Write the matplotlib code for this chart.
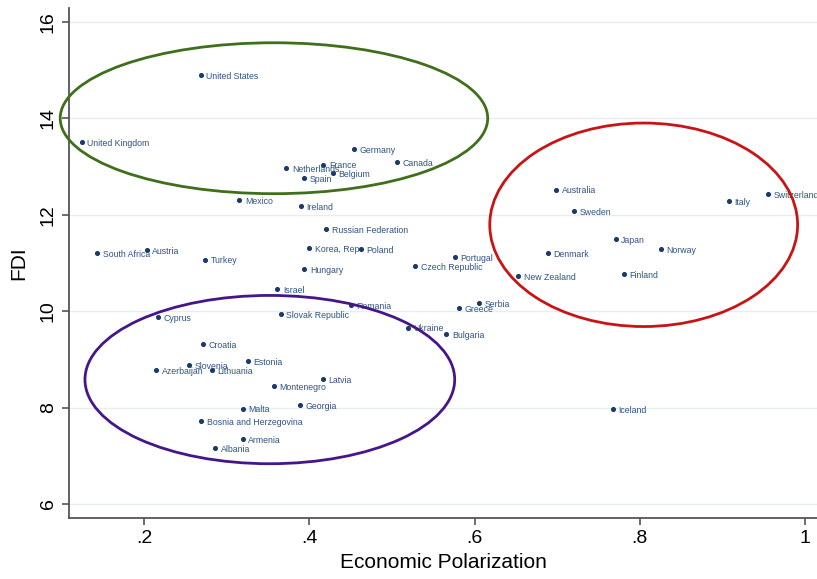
import matplotlib
matplotlib.use('Agg')
import matplotlib.pyplot as plt
from matplotlib.patches import Ellipse

countries = ['United States', 'United Kingdom', 'Germany', 'Canada', 'France', 'Netherlands',
             'Belgium', 'Spain', 'Mexico', 'Ireland', 'Russian Federation', 'South Africa',
             'Austria', 'Turkey', 'Korea, Rep', 'Poland', 'Hungary', 'Czech Republic', 'Israel',
             'Romania', 'Cyprus', 'Slovak Republic', 'Ukraine', 'Croatia', 'Slovenia',
             'Azerbaijan', 'Lithuania', 'Estonia', 'Latvia', 'Montenegro', 'Malta', 'Georgia',
             'Bosnia and Herzegovina', 'Armenia', 'Albania', 'Bulgaria', 'Greece', 'Serbia',
             'Portugal', 'Australia', 'Sweden', 'Italy', 'Switzerland', 'Japan', 'Norway',
             'Denmark', 'New Zealand', 'Finland', 'Iceland']
polarization = [0.268, 0.124, 0.454, 0.506, 0.417, 0.372, 0.428, 0.394, 0.315, 0.390, 0.420,
                0.143, 0.203, 0.274, 0.400, 0.462, 0.394, 0.528, 0.361, 0.450, 0.217, 0.365,
                0.519, 0.271, 0.254, 0.214, 0.282, 0.325, 0.416, 0.357, 0.319, 0.388, 0.269,
                0.319, 0.286, 0.566, 0.581, 0.606, 0.576, 0.699, 0.721, 0.908, 0.956, 0.771,
                0.826, 0.689, 0.653, 0.781, 0.768]
fdi = [14.90, 13.51, 13.36, 13.10, 13.04, 12.97, 12.86, 12.75, 12.30, 12.18, 11.70, 11.20,
       11.26, 11.07, 11.31, 11.28, 10.87, 10.93, 10.46, 10.12, 9.87, 9.93, 9.66, 9.32, 8.88,
       8.77, 8.77, 8.96, 8.59, 8.45, 7.98, 8.06, 7.72, 7.34, 7.16, 9.53, 10.06, 10.16, 11.12,
       12.52, 12.07, 12.28, 12.43, 11.50, 11.28, 11.21, 10.73, 10.76, 7.97]

# hand-drawn group ellipses: (center x, center y, width, height, colour)
groups = [(0.357, 14.0, 0.518, 3.13, '#3f6f1c'),
          (0.805, 11.79, 0.373, 4.22, '#c81414'),
          (0.352, 8.58, 0.448, 3.49, '#45168a')]

plt.rcParams['font.family'] = ['Liberation Sans', 'DejaVu Sans']

fig = plt.figure(figsize=(8.17, 5.79), dpi=100)
ax = fig.add_axes([0.0848, 0.1059, 0.9152, 0.8798])

ax.scatter(polarization, fdi, s=7, color='#1a3a6b', zorder=3)
for name, x, y in zip(countries, polarization, fdi):
    ax.annotate(name, (x, y), xytext=(4, -1), textcoords='offset points',
                fontsize=6.3, color='#2f5382', va='center', ha='left', zorder=4)

# the ellipses are drawn over the frame, so the green one crosses the y axis
for cx, cy, w, h, c in groups:
    ax.add_patch(Ellipse((cx, cy), w, h, fill=False, edgecolor=c, lw=2.0, zorder=5,
                         clip_on=False))

ax.set_xlim(0.109, 1.015)
ax.set_ylim(5.716, 16.28)
ax.set_xticks([0.2, 0.4, 0.6, 0.8, 1.0])
ax.set_xticklabels(['.2', '.4', '.6', '.8', '1'])
ax.set_yticks([6, 8, 10, 12, 14, 16])
ax.set_yticklabels(['6', '8', '10', '12', '14', '16'], rotation=90, va='center')
ax.tick_params(axis='both', labelsize=14, length=5, width=1.2, color='#555555', pad=4)
ax.grid(axis='y', color='#e6eef0', lw=1.0)
ax.set_axisbelow(True)
for side in ['top', 'right']:
    ax.spines[side].set_visible(False)
for side in ['left', 'bottom']:
    ax.spines[side].set_color('#555555')
    ax.spines[side].set_linewidth(1.3)

ax.set_xlabel('Economic Polarization', fontsize=15, labelpad=4)
ax.set_ylabel('FDI', fontsize=15, labelpad=8)

fig.savefig('out.png', dpi=100)
